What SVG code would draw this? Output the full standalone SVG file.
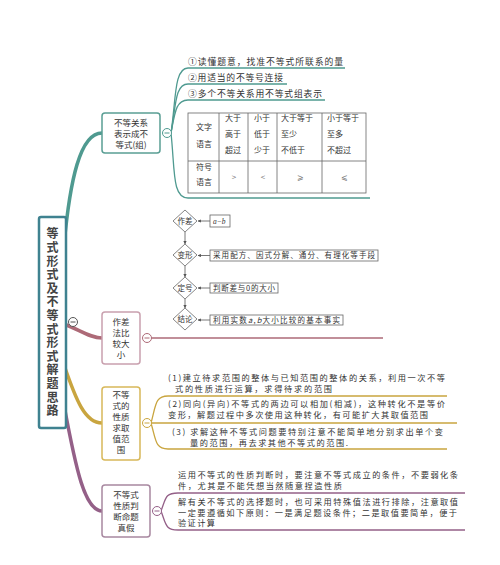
<svg xmlns="http://www.w3.org/2000/svg" width="500" height="565" viewBox="0 0 500 565">
<style>
text{font-family:"Noto Sans CJK SC","Noto Sans",sans-serif;fill:#333;}
.t{font-size:8.8px;}
.j{font-size:8.2px;}
.n{font-size:8.5px;text-anchor:middle;}
.r{font-size:12px;text-anchor:middle;font-weight:bold;fill:#444;writing-mode:vertical-rl;letter-spacing:1.6px;}
.s{font-size:8px;}
.c{font-size:8px;text-anchor:middle;}
.f{font-size:7.5px;}
.fc{font-size:7.5px;text-anchor:middle;}
.cell{fill:none;stroke:#666;stroke-width:0.8;}
.dia{fill:#fff;stroke:#777;stroke-width:0.9;}
.fl{fill:none;stroke:#555;stroke-width:0.8;}
.box{fill:#fff;stroke:#666;stroke-width:0.8;}
.teal{stroke:#4f9a90;}
.pink{stroke:#ad6a77;}
.gold{stroke:#c9a53f;}
.purp{stroke:#946088;}
.thin{fill:none;stroke-width:1.3;}
.thick{fill:none;stroke-width:3.5;stroke-linecap:round;}
.col{fill:#fff;stroke-width:1;}
.minus{stroke-width:1;}
</style>
<defs>
<marker id="ar" viewBox="0 0 6 6" refX="5.5" refY="3" markerWidth="4" markerHeight="4" orient="auto">
<path d="M0,0 L6,3 L0,6 z" fill="#555"/>
</marker>
</defs>
<rect width="500" height="565" fill="#fff"/>

<g id="connectors">
<path class="thick teal" d="M64,245 C70,180 80,133 102,133"/>
<path class="thick pink" d="M64,324 C80,330 90,338 102,338"/>
<path class="thick gold" d="M64,365 C76,400 85,423 102,423"/>
<path class="thick purp" d="M64,405 C76,470 85,511 102,511"/>
<path class="thin teal" d="M171,133 C176,100 174,68 188,68 H345"/>
<path class="thin teal" d="M171,133 C176,105 175,84 188,84 H287"/>
<path class="thin teal" d="M171,133 C175,112 176,100 188,100 H325"/>
<path class="thin teal" d="M171,133 C175,170 172,198 188,198 H370"/>
<path class="thin pink" d="M151,338 H383"/>
<path class="thin gold" d="M151,423 C156,405 155,396 168,396 H447"/>
<path class="thin gold" d="M151,423 H457"/>
<path class="thin gold" d="M151,423 C156,440 155,449 168,449 H447"/>
<path class="thin purp" d="M161,511 C166,498 165,493 178,493 H465"/>
<path class="thin purp" d="M161,511 C166,524 165,530 178,530 H465"/>
</g>

<g id="root">
<rect x="39" y="217" width="27" height="211" rx="2" fill="#fff" stroke="#3f8290" stroke-width="2.5"/>
<text class="r" x="52.5" y="323">等式形式及不等式形式解题思路</text>
<circle class="col" cx="73" cy="322" r="4.5" stroke="#555"/>
<path class="minus" d="M70.5,322 H75.5" stroke="#555"/>
</g>

<g id="node-relation">
<rect x="102" y="113" width="58" height="40" rx="3" fill="#fff" stroke="#5a9e94" stroke-width="1.5"/>
<text class="n"><tspan x="131" y="125.5">不等关系</tspan><tspan x="131" y="136.5">表示成不</tspan><tspan x="131" y="147.5">等式(组)</tspan></text>
<circle class="col teal" cx="167" cy="133" r="4.5"/>
<path class="minus teal" d="M164.5,133 H169.5"/>
</g>

<g id="items-relation">
<text class="t" x="188" y="64.5" textLength="155" lengthAdjust="spacing">①读懂题意，找准不等式所联系的量</text>
<text class="t" x="188" y="81" textLength="95" lengthAdjust="spacing">②用适当的不等号连接</text>
<text class="t" x="188" y="96.5" textLength="134" lengthAdjust="spacing">③多个不等关系用不等式组表示</text>
</g>

<g id="table">
<rect class="cell" x="188" y="113" width="178" height="80"/>
<path class="cell" d="M188,161 H366 M219,113 V193 M248,113 V193 M277,113 V193 M322,113 V193"/>
<text class="c"><tspan x="204" y="130">文字</tspan><tspan x="204" y="147">语言</tspan></text>
<text class="s"><tspan x="225" y="121">大于</tspan><tspan x="225" y="137">高于</tspan><tspan x="225" y="153">超过</tspan></text>
<text class="s"><tspan x="254" y="121">小于</tspan><tspan x="254" y="137">低于</tspan><tspan x="254" y="153">少于</tspan></text>
<text class="s"><tspan x="281" y="121">大于等于</tspan><tspan x="281" y="137">至少</tspan><tspan x="281" y="153">不低于</tspan></text>
<text class="s"><tspan x="327" y="121">小于等于</tspan><tspan x="327" y="137">至多</tspan><tspan x="327" y="153">不超过</tspan></text>
<text class="c"><tspan x="204" y="170">符号</tspan><tspan x="204" y="185">语言</tspan></text>
<text class="c" x="234" y="180" style="fill:#777">&gt;</text>
<text class="c" x="263" y="180" style="fill:#777">&lt;</text>
<text class="c" x="300" y="180" style="fill:#777">⩾</text>
<text class="c" x="344" y="180" style="fill:#777">⩽</text>
</g>

<g id="node-diff">
<rect x="102" y="312" width="38" height="52" rx="3" fill="#fff" stroke="#c9a0ae" stroke-width="1.5"/>
<text class="n"><tspan x="121" y="325">作差</tspan><tspan x="121" y="336">法比</tspan><tspan x="121" y="347">较大</tspan><tspan x="121" y="358">小</tspan></text>
<circle class="col pink" cx="147" cy="338" r="4.5"/>
<path class="minus pink" d="M144.5,338 H149.5"/>
</g>

<g id="flowchart">
<path class="fl" d="M185,232 V244" marker-end="url(#ar)"/>
<path class="fl" d="M185,266 V277" marker-end="url(#ar)"/>
<path class="fl" d="M185,299 V308" marker-end="url(#ar)"/>
<path class="fl" d="M210,221 H198" marker-end="url(#ar)"/>
<path class="fl" d="M210,255.5 H198" marker-end="url(#ar)"/>
<path class="fl" d="M210,288 H198" marker-end="url(#ar)"/>
<path class="fl" d="M210,320 H198" marker-end="url(#ar)"/>
<polygon class="dia" points="185,210 197,221 185,232 173,221"/>
<polygon class="dia" points="185,244 197,255 185,266 173,255"/>
<polygon class="dia" points="185,277 197,288 185,299 173,288"/>
<polygon class="dia" points="185,308 197,319 185,330 173,319"/>
<text class="fc" x="185" y="223.7">作差</text>
<text class="fc" x="185" y="257.7">变形</text>
<text class="fc" x="185" y="290.7">定号</text>
<text class="fc" x="185" y="321.7">结论</text>
<rect class="box" x="210" y="215" width="20" height="12"/>
<rect class="box" x="210" y="250" width="168" height="11"/>
<rect class="box" x="210" y="283" width="68" height="10"/>
<rect class="box" x="210" y="315" width="133" height="10"/>
<text class="f" x="213" y="223.6" font-style="italic" style="font-family:'Liberation Serif',serif">a−b</text>
<text class="f" x="213" y="258.3" textLength="162" lengthAdjust="spacing">采用配方、因式分解、通分、有理化等手段</text>
<text class="f" x="213" y="290.8" textLength="62" lengthAdjust="spacing">判断差与0的大小</text>
<text class="f" x="213" y="322.8" textLength="127" lengthAdjust="spacing">利用实数<tspan font-style="italic">a</tspan>,<tspan font-style="italic">b</tspan>大小比较的基本事实</text>
</g>

<g id="node-range">
<rect x="102" y="387" width="38" height="73" rx="3" fill="#fff" stroke="#d8b85a" stroke-width="1.5"/>
<text class="n"><tspan x="121" y="398">不等</tspan><tspan x="121" y="409">式的</tspan><tspan x="121" y="420">性质</tspan><tspan x="121" y="431">求取</tspan><tspan x="121" y="442">值范</tspan><tspan x="121" y="453">围</tspan></text>
<circle class="col gold" cx="147" cy="423" r="4.5"/>
<path class="minus gold" d="M144.5,423 H149.5"/>
</g>

<g id="items-range">
<text class="j"><tspan x="168" y="381" textLength="277" lengthAdjust="spacing">(1)建立待求范围的整体与已知范围的整体的关系，利用一次不等</tspan><tspan x="175" y="392" textLength="157" lengthAdjust="spacing">式的性质进行运算，求得待求的范围</tspan></text>
<text class="j"><tspan x="168" y="407" textLength="277" lengthAdjust="spacing">(2)同向(异向)不等式的两边可以相加(相减)，这种转化不是等价</tspan><tspan x="168" y="418" textLength="260" lengthAdjust="spacing">变形，解题过程中多次使用这种转化，有可能扩大其取值范围</tspan></text>
<text class="j"><tspan x="172" y="435" textLength="271" lengthAdjust="spacing">(3) 求解这种不等式问题要特别注意不能简单地分别求出单个变</tspan><tspan x="190" y="446" textLength="158" lengthAdjust="spacing">量的范围，再去求其他不等式的范围.</tspan></text>
</g>

<g id="node-judge">
<rect x="102" y="485" width="48" height="52" rx="3" fill="#fff" stroke="#a888a0" stroke-width="1.5"/>
<text class="n"><tspan x="126" y="498">不等式</tspan><tspan x="126" y="509">性质判</tspan><tspan x="126" y="520">断命题</tspan><tspan x="126" y="531">真假</tspan></text>
<circle class="col purp" cx="157" cy="511" r="4.5"/>
<path class="minus purp" d="M154.5,511 H159.5"/>
</g>

<g id="items-judge">
<text class="j"><tspan x="178" y="478" textLength="280" lengthAdjust="spacing">运用不等式的性质判断时，要注意不等式成立的条件，不要弱化条</tspan><tspan x="178" y="488.5" textLength="164" lengthAdjust="spacing">件，尤其是不能凭想当然随意捏造性质</tspan></text>
<text class="j"><tspan x="178" y="505" textLength="280" lengthAdjust="spacing">解有关不等式的选择题时，也可采用特殊值法进行排除，注意取值</tspan><tspan x="178" y="515.5" textLength="279" lengthAdjust="spacing">一定要遵循如下原则：一是满足题设条件；二是取值要简单，便于</tspan><tspan x="178" y="526" textLength="37" lengthAdjust="spacing">验证计算</tspan></text>
</g>
</svg>
